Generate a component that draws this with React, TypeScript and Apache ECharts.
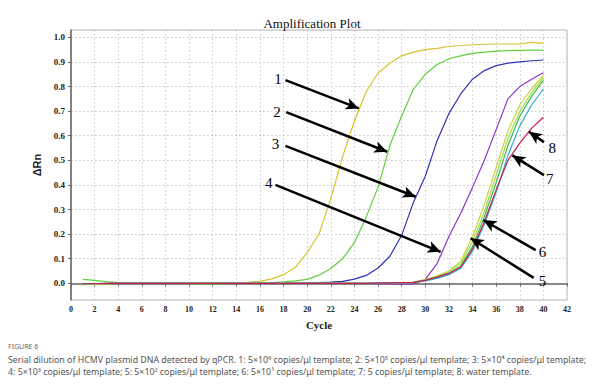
import React, { useEffect, useRef } from 'react';
import * as echarts from 'echarts';

const cycles = [1, 2, 3, 4, 5, 6, 7, 8, 9, 10, 11, 12, 13, 14, 15, 16, 17, 18, 19, 20, 21, 22, 23, 24, 25, 26, 27, 28, 29, 30, 31, 32, 33, 34, 35, 36, 37, 38, 39, 40];

const curve1 = [-0.006, -0.004, -0.002, 0, 0, 0, 0, 0, 0, 0, 0, 0.001, 0.001, 0.002, 0.004, 0.008, 0.018, 0.035, 0.065, 0.125, 0.2, 0.345, 0.515, 0.66, 0.78, 0.855, 0.895, 0.925, 0.94, 0.95, 0.955, 0.963, 0.967, 0.97, 0.972, 0.973, 0.973, 0.973, 0.98, 0.976];
const curve2 = [0.016, 0.012, 0.007, 0.003, 0.001, 0, 0, 0, 0, -0.002, -0.003, -0.003, -0.002, -0.001, 0, 0.001, 0.003, 0.006, 0.01, 0.016, 0.033, 0.06, 0.1, 0.165, 0.27, 0.39, 0.56, 0.68, 0.79, 0.85, 0.89, 0.913, 0.925, 0.935, 0.94, 0.944, 0.946, 0.947, 0.948, 0.948];
const curve3 = [-0.003, -0.002, -0.001, 0, 0, 0, 0, 0, 0, 0, 0, 0, 0, 0, 0, 0, 0, 0, 0.001, 0.002, 0.003, 0.005, 0.008, 0.017, 0.032, 0.062, 0.11, 0.195, 0.33, 0.435, 0.58, 0.69, 0.77, 0.83, 0.865, 0.885, 0.895, 0.9, 0.905, 0.908];
const curve4 = [-0.004, -0.003, -0.001, 0, 0, 0, 0, 0, 0, 0, 0, 0, 0, 0, 0, 0, 0, 0, 0, 0, 0, 0, 0, 0, -0.001, -0.002, -0.003, -0.004, -0.003, 0.016, 0.08, 0.19, 0.285, 0.39, 0.5, 0.625, 0.75, 0.8, 0.83, 0.856];
const curve5 = [-0.004, -0.003, -0.001, 0, 0, 0, 0, 0, 0, 0, 0, 0, 0, 0, 0, 0, 0, 0, 0, 0, 0, 0, 0, 0, 0, 0.001, 0.002, 0.003, 0.005, 0.015, 0.03, 0.05, 0.09, 0.19, 0.32, 0.47, 0.62, 0.725, 0.79, 0.845];
const curve6 = [-0.003, -0.002, -0.001, 0, 0, 0, 0, 0, 0, 0, 0, 0, 0, 0, 0, 0, 0, 0, 0, 0, 0, 0, 0, 0, 0, 0.001, 0.002, 0.003, 0.004, 0.013, 0.027, 0.045, 0.08, 0.17, 0.29, 0.44, 0.59, 0.7, 0.775, 0.835];
const curve7 = [-0.003, -0.002, -0.001, 0, 0, 0, 0, 0, 0, 0, 0, 0, 0, 0, 0, 0, 0, 0, 0, 0, 0, 0, 0, 0, 0, 0.001, 0.002, 0.003, 0.004, 0.012, 0.025, 0.04, 0.07, 0.15, 0.27, 0.41, 0.56, 0.68, 0.76, 0.825];
const curve8 = [-0.002, -0.001, 0, 0, 0, 0, 0, 0, 0, 0, 0, 0, 0, 0, 0, 0, 0, 0, 0, 0, 0, 0, 0, 0, 0, 0.001, 0.002, 0.003, 0.004, 0.01, 0.02, 0.035, 0.06, 0.13, 0.24, 0.37, 0.52, 0.64, 0.725, 0.79];
const curve9 = [-0.002, -0.001, 0, 0, 0, 0, 0, 0, 0, 0, 0, 0, 0, 0, 0, 0, 0, 0, 0, 0, 0, 0, 0, 0, 0, 0.001, 0.002, 0.003, 0.004, 0.012, 0.025, 0.04, 0.065, 0.14, 0.25, 0.38, 0.5, 0.57, 0.63, 0.675];

const curves = [curve1, curve2, curve3, curve4, curve5, curve6, curve7, curve8, curve9];
const curveColors = ['#d6c52e', '#62cf40', '#2e33b6', '#8d35c9', '#c9d43c', '#9fdb4e', '#3db94b', '#2fabd2', '#c41f50'];

const arrowLabels = ['1', '2', '3', '4', '5', '6', '7', '8'];
const labelCycle = [17.53, 17.44, 17.31, 16.75, 39.92, 39.92, 40.53, 40.76];
const labelValue = [0.83, 0.698, 0.566, 0.408, 0.009, 0.127, 0.424, 0.549];
const arrowFromCycle = [18.16, 18.22, 18.16, 17.31, 39.18, 39.35, 40.05, 40.05];
const arrowFromValue = [0.826, 0.696, 0.559, 0.4, 0.022, 0.135, 0.44, 0.574];
const arrowToCycle = [24.37, 26.78, 29.18, 31.3, 33.84, 34.92, 37.37, 38.78];
const arrowToValue = [0.711, 0.535, 0.352, 0.128, 0.183, 0.257, 0.52, 0.616];

const titleText = 'Amplification Plot';
const xName = 'Cycle';
const yName = 'ΔRn';
const figureLabel = 'FIGURE 6';
const captionLines = [
  'Serial dilution of HCMV plasmid DNA detected by qPCR. 1: 5×10⁶ copies/μl template; 2: 5×10⁵ copies/μl template; 3: 5×10⁴ copies/μl template;',
  '4: 5×10³ copies/μl template; 5: 5×10² copies/μl template; 6: 5×10¹ copies/μl template; 7: 5 copies/μl template; 8: water template.',
];

export default function App() {
  const ref = useRef<HTMLDivElement>(null);
  useEffect(() => {
    if (!ref.current) return;
    const chart = echarts.init(ref.current, null, { renderer: 'svg' });
    const lineSeries = curves.map((vals, k) => ({
      type: 'line',
      name: 'curve' + (k + 1),
      data: cycles.map((c, i) => [c, vals[i]]),
      showSymbol: false,
      symbol: 'none',
      silent: true,
      lineStyle: { color: curveColors[k], width: 1.2 },
      itemStyle: { color: curveColors[k] },
      z: 3,
    }));
    const captionGraphics = [
      {
        type: 'text',
        id: 'fig',
        left: 8,
        top: 343,
        style: { text: figureLabel, fontFamily: 'Noto Sans', fontSize: 7, fill: '#666' },
      },
      {
        type: 'text',
        id: 'cap1',
        left: 8,
        top: 355,
        style: { text: captionLines[0], fontFamily: 'Noto Sans', fontSize: 8.8, fill: '#555' },
      },
      {
        type: 'text',
        id: 'cap2',
        left: 8,
        top: 367,
        style: { text: captionLines[1], fontFamily: 'Noto Sans', fontSize: 8.8, fill: '#555' },
      },
    ];
    const option: any = {
      animation: false,
      backgroundColor: '#ffffff',
      title: {
        text: titleText,
        left: 307,
        top: 12,
        textAlign: 'center',
        textStyle: { fontFamily: 'Liberation Serif', fontSize: 13, fontWeight: 'normal', color: '#111' },
      },
      grid: { left: 71, right: 47, top: 30, bottom: 84, show: true, borderColor: '#b8b8b8', borderWidth: 1, backgroundColor: 'transparent' },
      xAxis: {
        type: 'value',
        min: 0,
        max: 42,
        interval: 2,
        name: xName,
        nameLocation: 'middle',
        nameGap: 19,
        nameTextStyle: { fontFamily: 'Liberation Sans Narrow', fontSize: 11, fontWeight: 'bold', color: '#222' },
        axisLine: { lineStyle: { color: '#666', width: 1.5 } },
        axisTick: { show: true, length: 3, lineStyle: { color: '#666' } },
        axisLabel: { fontFamily: 'Liberation Sans Narrow', fontSize: 8, fontWeight: 'bold', color: '#222', margin: 5 },
        splitLine: { show: true, lineStyle: { color: '#c8c8c8', type: [1.5, 2.5], width: 1 } },
      },
      yAxis: {
        type: 'value',
        min: -0.068,
        max: 1.03,
        splitNumber: 10,
        name: yName,
        nameLocation: 'middle',
        nameGap: 22,
        nameRotate: 90,
        nameTextStyle: { fontFamily: 'Liberation Sans', fontSize: 11, fontWeight: 'bold', color: '#222' },
        axisLine: { show: true, lineStyle: { color: '#666', width: 1.5 } },
        axisTick: { show: true, length: 3, lineStyle: { color: '#666' } },
        axisLabel: {
          fontFamily: 'Liberation Sans Narrow',
          fontSize: 9,
          fontWeight: 'bold',
          color: '#222',
          margin: 6,
          showMinLabel: false,
          showMaxLabel: false,
          formatter: (v: number) => v.toFixed(1),
        },
        splitLine: { show: true, lineStyle: { color: '#c8c8c8', type: [1.5, 2.5], width: 1 } },
      },
      series: [
        ...lineSeries,
        {
          type: 'line',
          name: 'arrows',
          data: [],
          silent: true,
          z: 5,
          markLine: {
            silent: true,
            animation: false,
            symbol: ['none', 'arrow'],
            symbolSize: 12,
            label: { show: false },
            lineStyle: { color: '#000', width: 2.5, type: 'solid' },
            emphasis: { disabled: true },
            data: arrowLabels.map((t, i) => [
              { coord: [arrowFromCycle[i], arrowFromValue[i]], symbol: 'none' },
              { coord: [arrowToCycle[i], arrowToValue[i]], symbol: 'arrow', symbolSize: [9, 13] },
            ]),
          },
        },
      ],
      graphic: captionGraphics,
    };
    chart.setOption(option);
    const labelGraphics = arrowLabels.map((t, i) => {
      const pt = chart.convertToPixel({ gridIndex: 0 }, [labelCycle[i], labelValue[i]]) as number[];
      return {
        type: 'text',
        id: 'lbl' + i,
        x: pt[0],
        y: pt[1],
        z: 10,
        style: {
          text: t,
          fontFamily: 'Liberation Serif',
          fontSize: 15,
          fill: '#000',
          align: 'center',
          verticalAlign: 'middle',
        },
      };
    });
    chart.setOption({ graphic: [...captionGraphics, ...labelGraphics] });
    return () => chart.dispose();
  }, []);
  return (
    <div
      ref={ref}
      style={{ position: 'fixed', left: 0, top: 0, width: 614, height: 384, background: '#fff' }}
    />
  );
}
